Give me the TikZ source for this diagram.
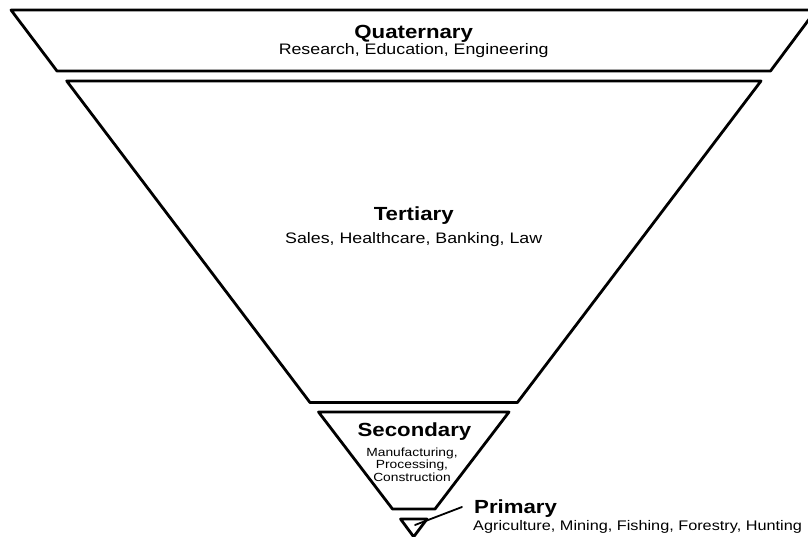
\documentclass[tikz,border=0pt]{standalone}
\usepackage{fontspec}
\setmainfont{Liberation Sans}[FakeStretch=1.17]
\begin{document}
\begin{tikzpicture}[x=1pt,y=-1pt,
  band/.style={draw=black,line width=2.8pt,line join=round,fill=white},
  leader/.style={draw=black,line width=1.8pt,line cap=round},
  ttl/.style={font=\bfseries\fontsize{19}{23}\selectfont,inner sep=0pt,anchor=base},
  sub/.style={font=\fontsize{15.2}{18}\selectfont,inner sep=0pt,anchor=base},
  small/.style={font=\fontsize{11.8}{12.7}\selectfont,inner sep=0pt,align=center}]
\useasboundingbox (0,0) rectangle (808,537);
% bands
\draw[band] (11,10) -- (816,10) -- (770.5,71) -- (57,71) -- cycle;
\draw[band] (66.7,81) -- (761,81) -- (517.4,402.5) -- (310,402.5) -- cycle;
\draw[band] (318.5,412) -- (509,412) -- (435,509) -- (392.5,509) -- cycle;
\draw[band] (400.5,519) -- (427,519) -- (413.7,536.8) -- cycle;
% texts
\node[ttl] (quat) at (413.7,39) {Quaternary};
\node[sub] (quatsub) at (413.7,54.3) {Research, Education, Engineering};
\node[ttl] (tert) at (413.7,221) {Tertiary};
\node[sub] (tertsub) at (413.7,243.3) {Sales, Healthcare, Banking, Law};
\node[ttl] (sec) at (414.5,436) {Secondary};
\node[small,anchor=north] (secsub) at (412,447.5) {Manufacturing,\\Processing,\\Construction};
\node[ttl,anchor=base west] (prim) at (474,513) {Primary};
\node[sub,anchor=base west,font=\fontsize{13.9}{16}\selectfont] (primsub) at (473,530) {Agriculture, Mining, Fishing, Forestry, Hunting};
% leader
\coordinate (primin) at (415,525);
\coordinate (primend) at (462,507);
\draw[leader] (primin) -- (primend);
\end{tikzpicture}
\end{document}
